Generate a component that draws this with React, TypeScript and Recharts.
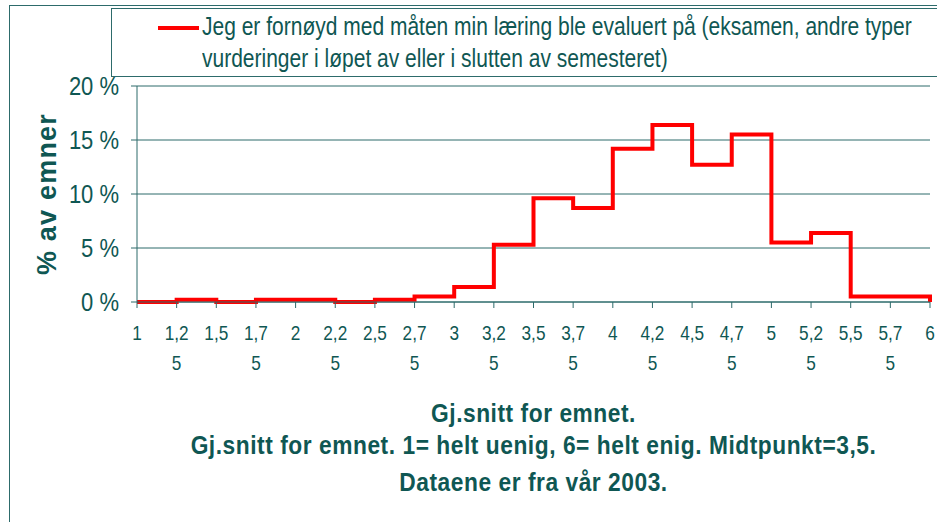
import { LineChart, Line, XAxis, YAxis, CartesianGrid, Legend } from "recharts";

const xValues = [1, 1.25, 1.5, 1.75, 2, 2.25, 2.5, 2.75, 3, 3.25, 3.5, 3.75, 4, 4.25, 4.5, 4.75, 5, 5.25, 5.5, 5.75, 6];
const xTickLabels = ["1", "1,25", "1,5", "1,75", "2", "2,25", "2,5", "2,75", "3", "3,25", "3,5", "3,75", "4", "4,25", "4,5", "4,75", "5", "5,25", "5,5", "5,75", "6"];
// share of courses (%) in each interval
const shareValues = [0, 0.2, 0, 0.2, 0.2, 0, 0.2, 0.5, 1.4, 5.3, 9.6, 8.7, 14.2, 16.4, 12.7, 15.5, 5.5, 6.4, 0.5, 0.5, 0];
const yTicks = [0, 5, 10, 15, 20];

const seriesName = "Jeg er fornøyd med måten min læring ble evaluert på (eksamen, andre typer vurderinger i løpet av eller i slutten av semesteret)";
const legendLines = [
  "Jeg er fornøyd med måten min læring ble evaluert på (eksamen, andre typer",
  "vurderinger i løpet av eller i slutten av semesteret)",
];
const yTitle = "% av emner";
const xTitleLines = [
  "Gj.snitt for emnet.",
  "Gj.snitt for emnet. 1= helt uenig, 6= helt enig. Midtpunkt=3,5.",
  "Dataene er fra vår 2003.",
];

const TEXT = "#0f5753";
const GRID = "#2d6b6b";
const FONT = "'Liberation Sans', Arial, sans-serif";

const data = xValues.map((x, i) => ({ x, pct: shareValues[i] }));

// no narrow font installed, so squeeze Liberation Sans horizontally
const XTick = (props: any) => {
  const { x, y, payload } = props;
  const label = xTickLabels[xValues.indexOf(payload.value)] ?? String(payload.value);
  const first = label.length > 3 ? label.slice(0, 3) : label;
  const second = label.length > 3 ? label.slice(3) : null;
  return (
    <text transform={`translate(${x} ${y}) scale(0.82 1)`} textAnchor="middle" fill={TEXT} fontFamily={FONT} fontSize={21}>
      <tspan x={0} y={30}>{first}</tspan>
      {second && <tspan x={0} y={60}>{second}</tspan>}
    </text>
  );
};

const YTick = (props: any) => {
  const { x, y, payload } = props;
  return (
    <text transform={`translate(${x} ${y}) scale(0.88 1)`} textAnchor="end" dy="0.355em" fill={TEXT} fontFamily={FONT} fontSize={25}>
      {`${payload.value} %`}
    </text>
  );
};

const XTitle = (props: any) => {
  const { viewBox } = props;
  const cx = viewBox.x + viewBox.width / 2;
  const top = viewBox.y;
  const offsets = [120, 152, 189];
  return (
    <g>
      {xTitleLines.map((t, i) => (
        <text key={i} transform={`translate(${cx} ${top + offsets[i]}) scale(0.91 1)`} textAnchor="middle" fill={TEXT}
          fontFamily={FONT} fontWeight="bold" fontSize={25} letterSpacing={0.6}>
          {t}
        </text>
      ))}
    </g>
  );
};

const YTitle = (props: any) => {
  const { viewBox } = props;
  const cy = viewBox.y + viewBox.height / 2;
  return (
    <text x={47} y={cy} transform={`rotate(-90 47 ${cy})`} textAnchor="middle" dominantBaseline="central"
      fill={TEXT} fontFamily={FONT} fontWeight="bold" fontSize={27} letterSpacing={1.2}>
      {yTitle}
    </text>
  );
};

const LegendBox = () => (
  <div style={{ width: 840, height: 69, boxSizing: "border-box", border: `1px solid ${GRID}`, background: "#fff", position: "relative" }}>
    <svg width={44} height={10} style={{ position: "absolute", left: 45, top: 14 }}>
      <line x1={1} y1={5} x2={42} y2={5} stroke="#ff0000" strokeWidth={4} />
    </svg>
    <div style={{ position: "absolute", left: 90, top: 1, fontFamily: FONT, fontSize: 25, lineHeight: "32px", color: TEXT, whiteSpace: "nowrap", transform: "scaleX(0.84)", transformOrigin: "left top" }}>
      {legendLines.map((l, i) => (
        <div key={i}>{l}</div>
      ))}
    </div>
  </div>
);

export default function App() {
  return (
    <div style={{ position: "absolute", left: 0, top: 0, width: 937, height: 522, overflow: "hidden", background: "#fff" }}>
      <div style={{ position: "absolute", left: 9, top: 5, width: 960, height: 560, border: `1px solid ${GRID}` }} />
      <LineChart width={937} height={522} data={data} margin={{ top: 86, right: 7, bottom: 0, left: 0 }}>
        <CartesianGrid vertical={false} stroke={GRID} strokeWidth={1} />
        <XAxis
          dataKey="x"
          type="number"
          domain={[1, 6]}
          ticks={xValues}
          interval={0}
          height={220}
          stroke={GRID}
          tickSize={6}
          tick={<XTick />}
          label={<XTitle />}
        />
        <XAxis xAxisId="top" orientation="top" dataKey="x" type="number" domain={[1, 6]} height={0}
          tick={false} tickLine={false} stroke="#9a9a9a" />
        <YAxis
          domain={[0, 20]}
          ticks={yTicks}
          width={137}
          stroke={GRID}
          tickSize={6}
          tickMargin={12}
          tick={<YTick />}
          label={<YTitle />}
        />
        <YAxis yAxisId="right" orientation="right" domain={[0, 20]} width={0}
          tick={false} tickLine={false} stroke="#9a9a9a" />
        <Legend
          verticalAlign="middle"
          layout="horizontal"
          width={840}
          height={69}
          wrapperStyle={{ top: 8, left: 111, width: 840, height: 69 }}
          content={<LegendBox />}
        />
        <Line
          type="stepAfter"
          dataKey="pct"
          name={seriesName}
          stroke="#ff0000"
          strokeWidth={4}
          dot={false}
          isAnimationActive={false}
        />
      </LineChart>
    </div>
  );
}
